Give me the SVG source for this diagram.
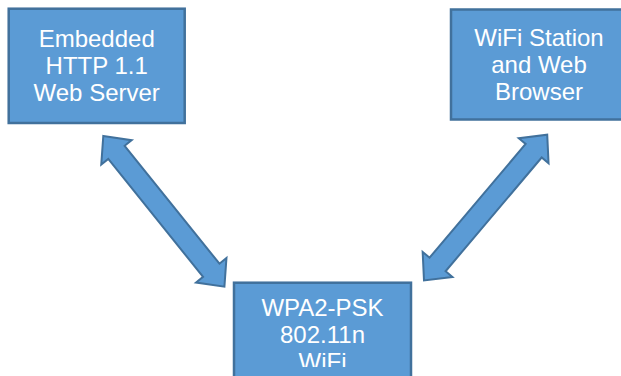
<svg xmlns="http://www.w3.org/2000/svg" width="621" height="376" viewBox="0 0 621 376">
  <style>
    .box { fill: #5B9BD5; stroke: #41719C; stroke-width: 2.5; }
    .arrow { fill: #5B9BD5; stroke: #41719C; stroke-width: 2; stroke-linejoin: miter; }
    .label { fill: #FFFFFF; font-family: "Liberation Sans", Arial, sans-serif; font-size: 24px; text-anchor: middle; }
  </style>
  <defs>
    <clipPath id="wifiClip">
      <rect x="234" y="282" width="177" height="85"/>
    </clipPath>
  </defs>

  <rect width="621" height="376" fill="#FFFFFF"/>

  <!-- connectors: double-headed block arrows -->
  <g id="connectors">
    <polygon class="arrow" transform="translate(103.3,136) rotate(51.2)"
      points="0,0 21,-19.5 21,-10.5 172.3,-10.5 172.3,-19.5 193.3,0 172.3,19.5 172.3,10.5 21,10.5 21,19.5"/>
    <polygon class="arrow" transform="translate(424,280.5) rotate(-49.8)"
      points="0,0 21,-19.5 21,-10.5 169.9,-10.5 169.9,-19.5 190.9,0 169.9,19.5 169.9,10.5 21,10.5 21,19.5"/>
  </g>

  <g id="server">
    <rect class="box" x="8.7" y="8.7" width="176" height="114.3"/>
    <text class="label" x="96.7" y="46.5">Embedded</text>
    <text class="label" x="96.7" y="73.5">HTTP 1.1</text>
    <text class="label" x="96.7" y="100.5">Web Server</text>
  </g>

  <g id="station">
    <rect class="box" x="451" y="9.5" width="176" height="110"/>
    <text class="label" x="539" y="46">WiFi Station</text>
    <text class="label" x="539" y="73">and Web</text>
    <text class="label" x="539" y="100">Browser</text>
  </g>

  <g id="wifi">
    <rect class="box" x="234" y="282.7" width="177" height="120"/>
    <g clip-path="url(#wifiClip)">
      <text class="label" x="322.5" y="315.7">WPA2-PSK</text>
      <text class="label" x="322.5" y="343">802.11n</text>
      <text class="label" x="322.5" y="370.3">WiFi</text>
    </g>
  </g>
</svg>
